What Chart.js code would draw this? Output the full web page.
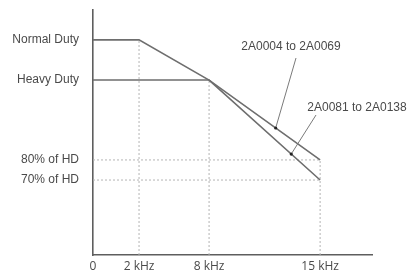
<!DOCTYPE html>
<html>
<head>
<meta charset="utf-8">
<script src="https://cdn.jsdelivr.net/npm/chart.js@4.4.1/dist/chart.umd.min.js"></script>
<style>
html, body { margin: 0; padding: 0; background: #fff; }
#wrap { width: 412px; height: 274px; }
</style>
</head>
<body>
<div id="wrap"><canvas id="c"></canvas></div>
<script>
// axis ticks
var freqTicks = [0, 2, 8, 15];
var freqLabels = ['0', '2 kHz', '8 kHz', '15 kHz'];
var levelTicks = [70, 80, 100, 120];
var levelLabels = ['70% of HD', '80% of HD', 'Heavy Duty', 'Normal Duty'];

// derating curves (kHz, % of HD)
var nameA = '2A0004 to 2A0069';
var freqA = [0, 2, 8, 15];
var levelA = [120, 120, 100, 80];
var nameB = '2A0081 to 2A0138';
var freqB = [0, 8, 15];
var levelB = [100, 100, 70];

// dotted guide lines
var guideFreq = [2, 8, 15];
var guideTop = [120, 100, 80];
var guideLevel = [80, 70];

// the picture is schematic, so each axis is stretched piecewise between its ticks
var stops = {
  x: [[0, 0], [2, 0.165], [8, 0.416], [15, 0.814], [18, 1]],
  y: [[0, 0], [70, 0.306], [80, 0.388], [100, 0.714], [120, 0.878], [130, 1]]
};

class StopScale extends Chart.LinearScale {
  toDecimal(v) {
    var s = stops[this.id];
    for (var i = 1; i < s.length; i++) {
      if (v <= s[i][0] || i === s.length - 1) {
        var a = s[i - 1], b = s[i];
        return a[1] + (v - a[0]) / (b[0] - a[0]) * (b[1] - a[1]);
      }
    }
    return 0;
  }
  getPixelForValue(v) {
    return this.getPixelForDecimal(this.toDecimal(v));
  }
  getValueForPixel(p) {
    var d = this.getDecimalForPixel(p);
    var s = stops[this.id];
    for (var i = 1; i < s.length; i++) {
      if (d <= s[i][1] || i === s.length - 1) {
        var a = s[i - 1], b = s[i];
        return a[0] + (d - a[1]) / (b[1] - a[1]) * (b[0] - a[0]);
      }
    }
    return 0;
  }
}
StopScale.id = 'stops';
StopScale.defaults = Chart.LinearScale.defaults;
Chart.register(StopScale);

function pts(xs, ys) {
  return xs.map(function (x, i) { return { x: x, y: ys[i] }; });
}

var lineGray = '#6e6e6e';
var dotGray = '#b4b4b4';
var textGray = '#4a4a4a';

var datasets = [
  { label: nameA, data: pts(freqA, levelA), borderColor: lineGray, borderWidth: 1.6, order: 1 },
  { label: nameB, data: pts(freqB, levelB), borderColor: lineGray, borderWidth: 1.6, order: 1 }
];
guideFreq.forEach(function (f, i) {
  datasets.push({ data: pts([f, f], [0, guideTop[i]]), borderColor: dotGray, borderWidth: 1, borderDash: [2, 2], order: 5 });
});
guideLevel.forEach(function (l) {
  datasets.push({ data: pts([0, freqA[freqA.length - 1]], [l, l]), borderColor: dotGray, borderWidth: 1, borderDash: [2, 2], order: 5 });
});

// labels with leader lines pointing onto the curves
var callouts = [
  { text: nameA, tx: 291, ty: 47, lx: 296, ly: 58, ds: 0, seg: 2, t: 0.6 },
  { text: nameB, tx: 357, ty: 108, lx: 316, ly: 115, ds: 1, seg: 1, t: 0.74 }
];

var calloutPlugin = {
  id: 'callouts',
  afterDatasetsDraw: function (chart) {
    var ctx = chart.ctx;
    ctx.save();
    ctx.font = '12px "Liberation Sans", Arial, sans-serif';
    ctx.fillStyle = textGray;
    ctx.textAlign = 'center';
    ctx.textBaseline = 'middle';
    callouts.forEach(function (c) {
      var el = chart.getDatasetMeta(c.ds).data;
      var p = el[c.seg], q = el[c.seg + 1];
      var x = p.x + (q.x - p.x) * c.t;
      var y = p.y + (q.y - p.y) * c.t;
      ctx.fillText(c.text, c.tx, c.ty);
      ctx.strokeStyle = '#7a7a7a';
      ctx.lineWidth = 1;
      ctx.beginPath();
      ctx.moveTo(c.lx, c.ly);
      ctx.lineTo(x, y);
      ctx.stroke();
      ctx.fillStyle = '#222';
      ctx.beginPath();
      ctx.arc(x, y, 1.6, 0, Math.PI * 2);
      ctx.fill();
      ctx.fillStyle = textGray;
    });
    ctx.restore();
  }
};

new Chart(document.getElementById('c'), {
  type: 'scatter',
  data: { datasets: datasets },
  options: {
    responsive: true,
    maintainAspectRatio: false,
    animation: false,
    layout: { padding: { top: 10, right: 40, left: 0, bottom: 0 } },
    elements: { point: { radius: 0, hoverRadius: 0 }, line: { tension: 0 } },
    datasets: { scatter: { showLine: true, clip: false } },
    plugins: { legend: { display: false }, tooltip: { enabled: false } },
    scales: {
      x: {
        type: 'stops',
        min: 0,
        max: 18,
        grid: { display: false, drawTicks: false },
        border: { display: true, color: '#5e5e5e', width: 1.6 },
        afterBuildTicks: function (s) { s.ticks = freqTicks.map(function (v) { return { value: v }; }); },
        afterFit: function (s) { s.height = 19; s.paddingLeft = 0; s.paddingRight = 0; },
        ticks: {
          padding: 4,
          color: textGray,
          maxRotation: 0,
          autoSkip: false,
          font: { family: '"Open Sans", sans-serif', size: 12 },
          callback: function (v) { var i = freqTicks.indexOf(v); return i < 0 ? '' : freqLabels[i]; }
        }
      },
      y: {
        type: 'stops',
        position: 'left',
        min: 0,
        max: 130,
        grid: { display: false, drawTicks: false },
        border: { display: true, color: '#5e5e5e', width: 1.6 },
        afterBuildTicks: function (s) { s.ticks = levelTicks.map(function (v) { return { value: v }; }); },
        afterFit: function (s) { s.width = 93; s.paddingTop = 0; s.paddingBottom = 0; },
        ticks: {
          padding: 14,
          color: textGray,
          autoSkip: false,
          font: { family: '"Liberation Sans", Arial, sans-serif', size: 12 },
          callback: function (v) { var i = levelTicks.indexOf(v); return i < 0 ? '' : levelLabels[i]; }
        }
      }
    }
  },
  plugins: [calloutPlugin]
});
</script>
</body>
</html>
